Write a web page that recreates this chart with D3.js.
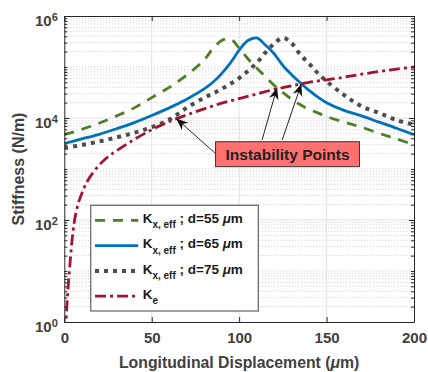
<!DOCTYPE html>
<html>
<head>
<meta charset="utf-8">
<script src="https://cdn.jsdelivr.net/npm/d3@7"></script>
<style>
  body { margin: 0; background: #fff; }
  svg { display: block; font-family: "Liberation Sans", Arial, sans-serif; }
</style>
</head>
<body>
<svg id="chart" width="428" height="372"></svg>
<script>
// displacement grid (um) shared by the three K_x,eff curves
const dispX = [0, 10, 20, 30, 40, 50, 60, 70, 80, 85, 90, 95, 100, 105, 110, 115, 120, 125, 130, 135, 140, 145, 150, 160, 170, 180, 190, 200];
// stiffness (N/m)
const kEff55 = [4700, 6000, 7900, 11000, 15800, 25100, 39800, 69200, 138000, 229000, 331000, 355000, 234000, 145000, 95500, 64600, 43700, 31600, 23400, 18200, 14800, 12600, 10700, 8300, 6600, 5000, 3900, 3000];
const kEff65 = [3160, 3890, 4790, 6170, 8130, 11200, 15800, 23400, 37200, 50100, 74100, 120000, 214000, 331000, 372000, 269000, 182000, 107000, 70800, 49000, 34700, 25700, 20000, 14100, 11000, 8300, 6300, 4700];
const kEff75 = [2570, 2950, 3470, 4170, 5130, 6610, 9330, 15800, 25100, 30200, 37200, 46800, 60300, 83200, 120000, 191000, 288000, 372000, 295000, 174000, 117000, 75900, 52500, 28200, 17000, 12600, 9100, 7400];

const keX = [0.8, 1, 2, 3, 4, 5, 6, 8, 10, 12, 15, 20, 25, 30, 40, 50, 60, 70, 80, 90, 100, 110, 120, 130, 140, 150, 160, 170, 180, 190, 200];
const kE = [0.6, 1, 4, 11, 28, 60, 105, 214, 331, 479, 724, 1200, 1740, 2290, 3800, 5890, 8510, 11500, 15100, 19500, 24000, 29500, 36300, 42700, 50100, 56200, 63100, 72400, 81300, 91200, 100000];

const xTicks = [0, 50, 100, 150, 200];
const yTickExp = [0, 2, 4, 6];
const gapValues = ['55', '65', '75'];

// instability points (x, K) and annotation box extents (data units)
const instabX = [64, 121.7, 135.6];
const instabK = [9800, 39800, 46800];
const arrowTailX = [86.1, 113.1, 124.6];
const arrowTailK = [2060, 3700, 3700];
const boxX = [86.5, 168.8];
const boxK = [1110, 3430];

const width = 428, height = 372;
const margin = {top: 16, right: 14, bottom: 50, left: 64.3};

const x = d3.scaleLinear().domain([0, 200]).range([margin.left, width - margin.right]);
const y = d3.scaleLog().domain([1, 1e6]).range([height - margin.bottom, margin.top]);

const svg = d3.select('#chart');
const axisColor = '#262626';
const labelColor = '#404040';

// minor log positions
const minorY = [];
for (let e = 0; e < 6; e++) {
  for (let m = 1; m < 10; m++) {
    if (m === 1 && e % 2 === 0) continue;
    minorY.push(m * Math.pow(10, e));
  }
}

// grid
const grid = svg.append('g');
grid.selectAll('.minor').data(minorY).join('line')
  .attr('x1', x(0)).attr('x2', x(200))
  .attr('y1', d => y(d)).attr('y2', d => y(d))
  .attr('stroke', '#c9c9c9').attr('stroke-width', 1)
  .attr('stroke-dasharray', '1,2');
grid.selectAll('.majY').data([1e2, 1e4]).join('line')
  .attr('x1', x(0)).attr('x2', x(200))
  .attr('y1', d => y(d)).attr('y2', d => y(d))
  .attr('stroke', '#e1e1e1').attr('stroke-width', 1);
grid.selectAll('.majX').data([50, 100, 150]).join('line')
  .attr('x1', d => x(d)).attr('x2', d => x(d))
  .attr('y1', y(1)).attr('y2', y(1e6))
  .attr('stroke', '#e1e1e1').attr('stroke-width', 1);

// curves
svg.append('clipPath').attr('id', 'plotClip')
  .append('rect')
  .attr('x', x(0)).attr('y', y(1e6))
  .attr('width', x(200) - x(0)).attr('height', y(1) - y(1e6));

const line = d3.line()
  .x(d => x(d[0]))
  .y(d => y(d[1]))
  .curve(d3.curveCatmullRom.alpha(0.5));

const series = [
  {pts: d3.zip(dispX, kEff55), color: '#4f7f24', dash: '10,8', w: 2.8, d: gapValues[0]},
  {pts: d3.zip(dispX, kEff65), color: '#0072bd', dash: null, w: 2.8, d: gapValues[1]},
  {pts: d3.zip(dispX, kEff75), color: '#4d4d4d', dash: '4,5', w: 4, d: gapValues[2]},
  {pts: d3.zip(keX, kE), color: '#a2142f', dash: '11,4,3,4', w: 2.8, d: null}
];

svg.append('g').attr('clip-path', 'url(#plotClip)')
  .selectAll('path').data(series).join('path')
  .attr('d', s => line(s.pts))
  .attr('fill', 'none')
  .attr('stroke', s => s.color)
  .attr('stroke-width', s => s.w)
  .attr('stroke-dasharray', s => s.dash);

// axes (inward ticks, box)
const yB = y(1), yT = y(1e6);
svg.append('g').attr('transform', `translate(0,${yB})`)
  .call(d3.axisBottom(x).tickValues(xTicks).tickSize(-5).tickPadding(10.5).tickSizeOuter(0))
  .call(g => g.selectAll('text').attr('fill', labelColor).style('font-size', '15px').style('font-weight', 'bold'));
svg.append('g').attr('transform', `translate(0,${yT})`)
  .call(d3.axisTop(x).tickValues(xTicks).tickSize(-5).tickFormat('').tickSizeOuter(0));
svg.append('g').attr('transform', `translate(${x(0)},0)`)
  .call(d3.axisLeft(y).tickValues(yTickExp.map(e => Math.pow(10, e))).tickSize(-5).tickFormat('').tickSizeOuter(0));
svg.append('g').attr('transform', `translate(${x(0)},0)`)
  .call(d3.axisLeft(y).tickValues(minorY).tickSize(-3).tickFormat('').tickSizeOuter(0))
  .call(g => g.select('.domain').remove());
svg.append('g').attr('transform', `translate(${x(200)},0)`)
  .call(d3.axisRight(y).tickValues(yTickExp.map(e => Math.pow(10, e))).tickSize(-5).tickFormat('').tickSizeOuter(0));
svg.append('g').attr('transform', `translate(${x(200)},0)`)
  .call(d3.axisRight(y).tickValues(minorY).tickSize(-3).tickFormat('').tickSizeOuter(0))
  .call(g => g.select('.domain').remove());
svg.selectAll('.domain, .tick line').attr('stroke', axisColor).attr('stroke-width', 1);

// y tick labels 10^n
const yLab = svg.append('g').selectAll('text').data(yTickExp).join('text')
  .attr('x', x(0) - 6.5)
  .attr('y', e => y(Math.pow(10, e)) + 10)
  .attr('text-anchor', 'end')
  .attr('fill', labelColor)
  .style('font-weight', 'bold');
yLab.append('tspan').style('font-size', '15px').text('10');
yLab.append('tspan').style('font-size', '11px').attr('dy', -4.8).text(e => e);

// axis titles
const xTitle = svg.append('text')
  .attr('x', (x(0) + x(200)) / 2).attr('y', 367.5)
  .attr('text-anchor', 'middle').attr('fill', labelColor)
  .style('font-size', '15.8px').style('font-weight', 'bold');
xTitle.append('tspan').text('Longitudinal Displacement (');
xTitle.append('tspan').style('font-style', 'italic').text('\u03bc');
xTitle.append('tspan').text('m)');

svg.append('text')
  .attr('transform', `translate(24,${(y(1) + y(1e6)) / 2}) rotate(-90)`)
  .attr('text-anchor', 'middle').attr('fill', labelColor)
  .style('font-size', '16px').style('font-weight', 'bold')
  .text('Stiffness (N/m)');

// legend
const lg = svg.append('g');
lg.append('rect')
  .attr('x', 90.7).attr('y', 205.3).attr('width', 167.6).attr('height', 105.7)
  .attr('fill', '#fff').attr('stroke', '#6e6e6e').attr('stroke-width', 1.3);
const rows = lg.selectAll('g.row').data(series).join('g')
  .attr('transform', (s, i) => `translate(0,${220.3 + i * 25.3})`);
rows.append('line')
  .attr('x1', 95).attr('x2', 138.3)
  .attr('stroke', s => s.color)
  .attr('stroke-width', s => s.w)
  .attr('stroke-dasharray', s => s.dash);
const rowText = rows.append('text')
  .attr('x', 142.7).attr('y', 2.6)
  .attr('fill', '#1a1a1a')
  .style('font-size', '13.5px').style('font-weight', 'bold');
rowText.append('tspan').text('K');
rowText.append('tspan').style('font-size', '10px').attr('dy', 5.5)
  .text(s => s.d ? 'x, eff' : 'e');
rowText.filter(s => s.d).append('tspan').attr('dy', -5.5).text(s => ` ; d=${s.d} `);
rowText.filter(s => s.d).append('tspan').style('font-style', 'italic').text('\u03bc');
rowText.filter(s => s.d).append('tspan').text('m');

// annotation
const ann = svg.append('g');
ann.append('rect')
  .attr('x', x(boxX[0])).attr('y', y(boxK[1]))
  .attr('width', x(boxX[1]) - x(boxX[0])).attr('height', y(boxK[0]) - y(boxK[1]))
  .attr('fill', '#ff7070').attr('stroke', '#333').attr('stroke-width', 1);
ann.append('text')
  .attr('x', (x(boxX[0]) + x(boxX[1])) / 2)
  .attr('y', (y(boxK[0]) + y(boxK[1])) / 2 + 6)
  .attr('text-anchor', 'middle').attr('fill', '#222')
  .style('font-size', '15.5px').style('font-weight', 'bold')
  .text('Instability Points');

const arrows = d3.range(instabX.length).map(i => ({
  x0: x(arrowTailX[i]), y0: y(arrowTailK[i]),
  x1: x(instabX[i]), y1: y(instabK[i])
}));
ann.selectAll('line.arr').data(arrows).join('line')
  .attr('x1', a => a.x0).attr('y1', a => a.y0)
  .attr('x2', a => a.x1).attr('y2', a => a.y1)
  .attr('stroke', '#262626').attr('stroke-width', 1);
ann.selectAll('path.head').data(arrows).join('path')
  .attr('d', a => {
    const ang = Math.atan2(a.y1 - a.y0, a.x1 - a.x0);
    const len = 12, half = 4.8, notch = 8.5;
    const c = Math.cos(ang), s = Math.sin(ang);
    const bx = a.x1 - len * c, by = a.y1 - len * s;
    const nx = a.x1 - notch * c, ny = a.y1 - notch * s;
    return `M${a.x1},${a.y1}L${bx - half * s},${by + half * c}L${nx},${ny}L${bx + half * s},${by - half * c}Z`;
  })
  .attr('fill', '#111');
</script>
</body>
</html>
